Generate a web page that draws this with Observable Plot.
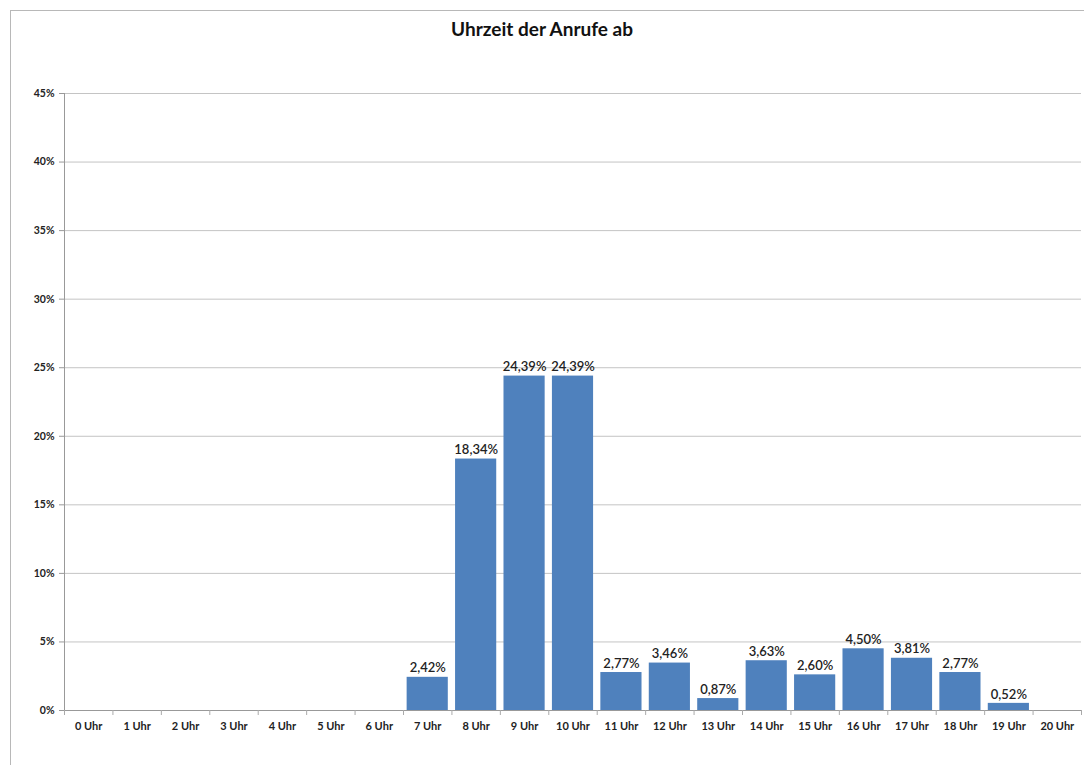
<!DOCTYPE html>
<html>
<head>
<meta charset="utf-8">
<script src="https://cdn.jsdelivr.net/npm/d3@7"></script>
<script src="https://cdn.jsdelivr.net/npm/@observablehq/plot@0.6"></script>
<style>
  html, body { margin: 0; padding: 0; background: #fff; }
  #wrap { position: relative; width: 1084px; height: 765px; overflow: hidden; font-family: Lato, "Open Sans", sans-serif; }
  #frame { position: absolute; left: 10px; top: 10px; width: 1100px; height: 800px; border-left: 1px solid #b8b8b8; border-top: 1px solid #b8b8b8; }
  #title { position: absolute; left: 0; width: 1084px; top: 17px; text-align: center; font-weight: bold; font-size: 19px; color: #111; }
  #chart { position: absolute; left: 0; top: 0; }
</style>
</head>
<body>
<div id="wrap">
  <div id="frame"></div>
  <div id="title">Uhrzeit der Anrufe ab</div>
  <div id="chart"></div>
</div>
<script>
const categories = ["0 Uhr","1 Uhr","2 Uhr","3 Uhr","4 Uhr","5 Uhr","6 Uhr","7 Uhr","8 Uhr","9 Uhr","10 Uhr","11 Uhr","12 Uhr","13 Uhr","14 Uhr","15 Uhr","16 Uhr","17 Uhr","18 Uhr","19 Uhr","20 Uhr"];
const values = [0,0,0,0,0,0,0,2.42,18.34,24.39,24.39,2.77,3.46,0.87,3.63,2.60,4.50,3.81,2.77,0.52,0];
const yTicks = [0,5,10,15,20,25,30,35,40,45];

const data = categories.map((c, i) => ({cat: c, v: values[i] / 100}));
const labeled = data.filter(d => d.v > 0);

const W = 1084, H = 765, ML = 64, MR = 3, MT = 93, MB = 55;
const step = (W - ML - MR) / categories.length;
const fmt = v => (v * 100).toFixed(2).replace(".", ",") + "%";

const plot = Plot.plot({
  width: W,
  height: H,
  marginLeft: ML,
  marginRight: MR,
  marginTop: MT,
  marginBottom: MB,
  style: {fontFamily: "Lato, 'Open Sans', sans-serif", background: "transparent", overflow: "visible"},
  x: {domain: categories, paddingInner: 0.15, paddingOuter: 0.075, round: false, label: null},
  y: {domain: [0, 0.45], label: null},
  marks: [
    Plot.gridY(yTicks.map(t => t / 100), {stroke: "#c4c4c4", strokeOpacity: 1, strokeWidth: 1}),
    Plot.axisY(yTicks.map(t => t / 100), {
      tickFormat: d => Math.round(d * 100) + "%",
      tickSize: 5, tickPadding: 5, stroke: "#999",
      fontSize: 10.5, fontWeight: "bold", fill: "#222", label: null
    }),
    Plot.barY(data, {x: "cat", y: "v", fill: "#4f81bd"}),
    Plot.ruleY([0], {stroke: "#999"}),
    Plot.ruleX([categories[0]], {x: d => d, dx: -step / 2, stroke: "#999"}),
    Plot.ruleX(categories, {x: d => d, dx: -step / 2, y1: 0, y2: 0, insetBottom: -5, stroke: "#aaa"}),
    Plot.ruleX([categories[categories.length - 1]], {x: d => d, dx: step / 2, y1: 0, y2: 0, insetBottom: -5, stroke: "#aaa"}),
    Plot.axisX({tickSize: 0, tickPadding: 12, fontSize: 11, fontWeight: "bold", fill: "#222", label: null}),
    Plot.text(labeled, {x: "cat", y: "v", text: d => fmt(d.v), dy: -9, fontSize: 13, fontWeight: 600, fill: "#222"})
  ]
});
document.getElementById("chart").appendChild(plot);
</script>
</body>
</html>
